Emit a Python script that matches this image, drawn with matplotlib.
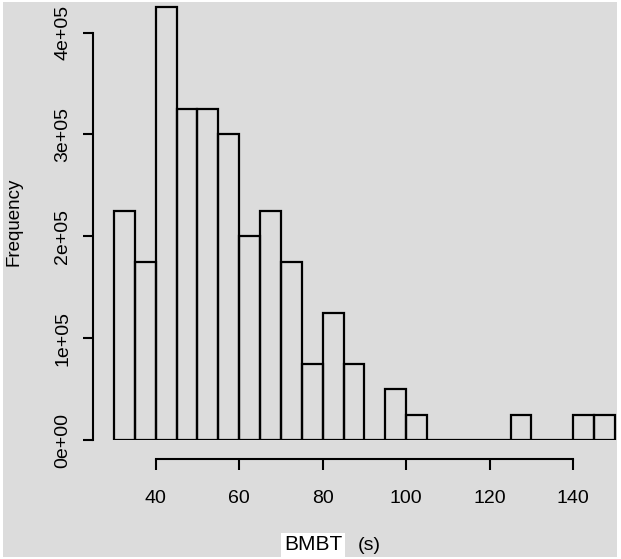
"""R-style histogram of BMBT (s) recreated with matplotlib."""

import matplotlib

matplotlib.use("Agg")
import matplotlib.pyplot as plt
from matplotlib.patches import Rectangle

# bin left edges (width 5 s) and frequencies
bin_left = [30, 35, 40, 45, 50, 55, 60, 65, 70, 75, 80, 85, 90, 95, 100,
            105, 110, 115, 120, 125, 130, 135, 140, 145]
freq = [2.25e5, 1.75e5, 4.25e5, 3.25e5, 3.25e5, 3.0e5, 2.0e5, 2.25e5, 1.75e5,
        0.75e5, 1.25e5, 0.75e5, 0, 0.5e5, 0.25e5,
        0, 0, 0, 0, 0.25e5, 0, 0, 0.25e5, 0.25e5]
bin_width = 5

x_ticks = [40, 60, 80, 100, 120, 140]
y_ticks = [0, 1e5, 2e5, 3e5, 4e5]
y_ticklabels = ["0e+00", "1e+05", "2e+05", "3e+05", "4e+05"]

BG = "#dcdcdc"
W, H = 621, 559

plt.rcParams["font.family"] = ["Liberation Sans", "DejaVu Sans"]
fig = plt.figure(figsize=(W / 100, H / 100), dpi=100)
fig.patch.set_facecolor("white")
fig.add_artist(Rectangle((3 / W, 2 / H), 614 / W, 555 / H, transform=fig.transFigure,
                         facecolor=BG, edgecolor="none", zorder=0))

# plot region in pixels: left 93, right 617, bottom (y=0) at 440, top at 2
ax = fig.add_axes([93 / W, (H - 440) / H, (617 - 93) / W, (440 - 2) / H])
ax.set_facecolor("none")
ax.bar(bin_left, freq, width=bin_width, align="edge", fill=False,
       edgecolor="black", linewidth=1.6)
ax.set_xlim(25, 150.5)
ax.set_ylim(0, 4.3e5)

for side in ("top", "right"):
    ax.spines[side].set_visible(False)
ax.spines["left"].set_bounds(0, 4e5)
ax.spines["left"].set_linewidth(1.5)
ax.spines["bottom"].set_bounds(40, 140)
ax.spines["bottom"].set_linewidth(1.5)
ax.spines["bottom"].set_position(("outward", 13.7))

ax.set_xticks(x_ticks)
ax.set_yticks(y_ticks)
ax.set_yticklabels(y_ticklabels, rotation=90, va="center")
ax.tick_params(axis="x", length=8, width=1.5, pad=14, labelsize=14)
ax.tick_params(axis="y", length=7.5, width=1.5, pad=8, labelsize=14)

fig.text(14 / W, 1 - 222 / H, "Frequency", rotation=90, ha="center", va="center",
         fontsize=13.5)
fig.text(313 / W, 1 - 545 / H, "BMBT", ha="center", va="center", fontsize=15,
         bbox=dict(facecolor="white", edgecolor="none", pad=2))
fig.text(369 / W, 1 - 545 / H, "(s)", ha="center", va="center", fontsize=14)

fig.savefig("out.png", dpi=100)
